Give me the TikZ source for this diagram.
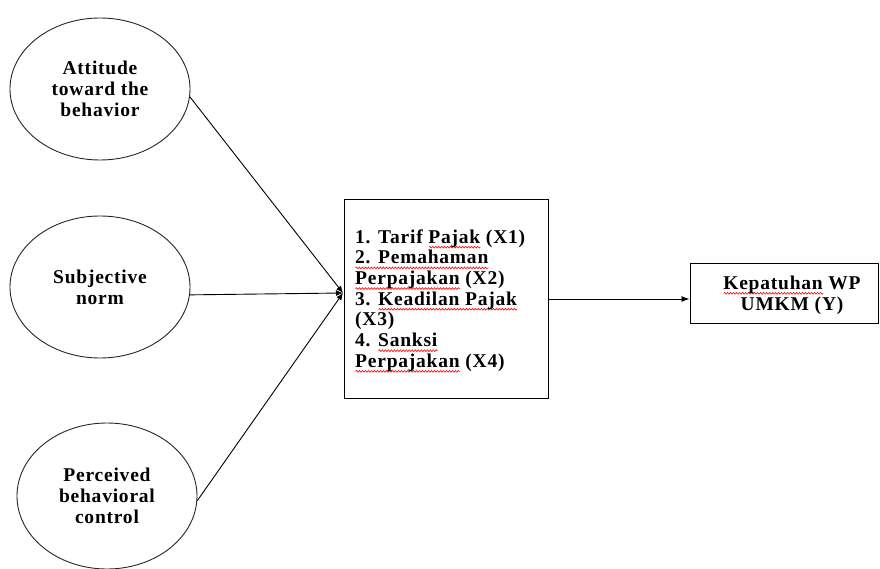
\documentclass[tikz,border=0pt]{standalone}
\usepackage{fontspec}
\setmainfont{Liberation Serif}[LetterSpace=4]
\usetikzlibrary{shapes.geometric,arrows.meta,decorations.pathmorphing}
\newsavebox\wavebox
\newlength\wavewd
\newcommand\redwave[1]{\sbox\wavebox{#1}\setlength\wavewd{\wd\wavebox}\rlap{\tikz[baseline=0pt]\draw[red,line width=0.6pt,decorate,decoration={snake,amplitude=0.9pt,segment length=3pt}] (0pt,-4pt) -- (\wavewd,-4pt);}\usebox\wavebox}
\begin{document}
\begin{tikzpicture}[x=1pt,y=-1pt,
  every node/.style={font=\fontsize{19.5}{20.7}\selectfont\bfseries},
  oval/.style={draw=black!85,line width=0.9pt,ellipse,minimum width=180pt,minimum height=142pt,inner sep=0pt,align=center},
  boxnode/.style={draw,line width=1pt,rectangle,inner sep=0pt},
  conn/.style={line width=0.9pt,-{Latex[length=7pt,width=6pt]}}]
\useasboundingbox (0,0) rectangle (880,569);
\node[oval] (e1) at (100,89) {Attitude\\toward the\\behavior};
\node[oval] (e2) at (100,287) {Subjective\\norm};
\node[oval,minimum height=146pt] (e3) at (107,496) {Perceived\\behavioral\\control};
\node[boxnode,minimum width=204pt,minimum height=198pt] (b) at (446,299) {};
\node[anchor=west,align=left,inner sep=0pt] (bt) at (355,301) {1. Tarif \redwave{Pajak} (X1)\\\redwave{2. Pemahaman}\\\redwave{Perpajakan} (X2)\\3. \redwave{Keadilan Pajak}\\(X3)\\4. \redwave{Sanksi}\\\redwave{Perpajakan} (X4)};
\node[boxnode,minimum width=188pt,minimum height=60pt] (r) at (784,293) {};
\node[align=center,inner sep=0pt] (rt) at (792,295) {\redwave{Kepatuhan} WP\\UMKM (Y)};
\coordinate (j) at (343,293);
\draw[conn] (e1.-5) -- (j);
\draw[conn] (e2.-5) -- (j);
\draw[conn] (e3.-3) -- (j);
\draw[line width=0.9pt,-{Latex[length=8pt,width=6pt]}] (b.east |- 0,299) -- (r.west |- 0,299);
\end{tikzpicture}
\end{document}
